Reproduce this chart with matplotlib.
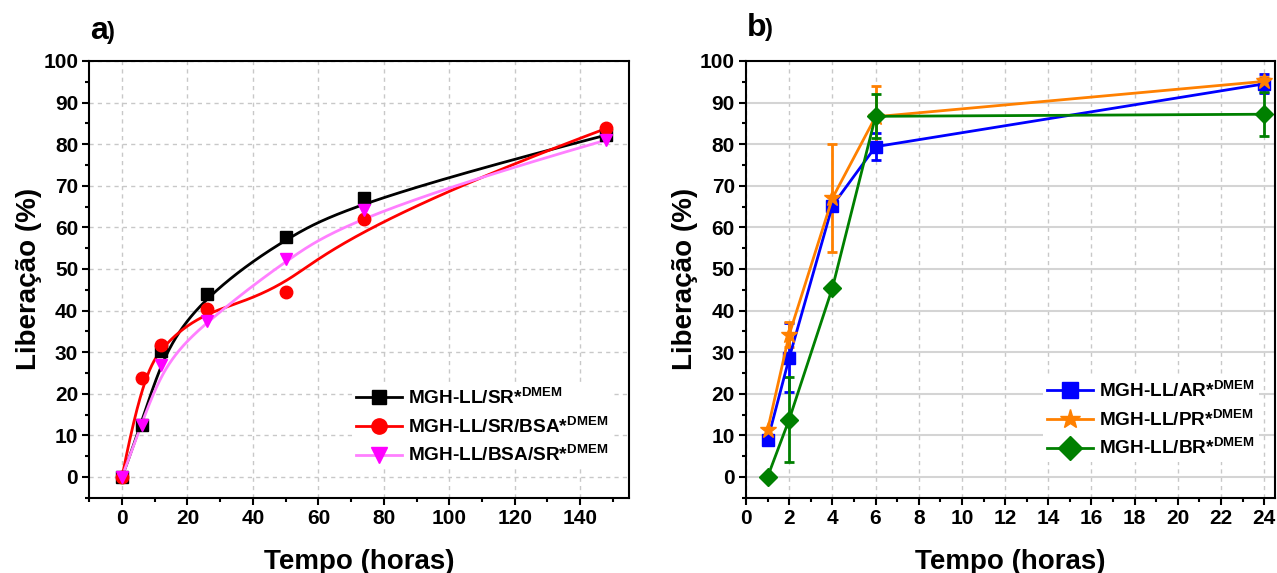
import numpy as np
import matplotlib
matplotlib.use('Agg')
import matplotlib.pyplot as plt
from matplotlib.lines import Line2D
from matplotlib.ticker import MultipleLocator

plt.rcParams['font.family'] = ['Liberation Sans', 'DejaVu Sans']
plt.rcParams['font.weight'] = 'bold'
plt.rcParams['mathtext.fontset'] = 'custom'
plt.rcParams['mathtext.rm'] = 'Liberation Sans:bold'
plt.rcParams['mathtext.bf'] = 'Liberation Sans:bold'

# ---- panel a data -----------------------------------------------------------
t_a = [0, 6, 12, 26, 50, 74, 148]
sr = [0, 12.6, 30.2, 43.9, 57.8, 67.1, 82.2]
sr_bsa = [0, 23.8, 31.8, 40.3, 44.4, 62.0, 83.8]
bsa_sr = [0, 12.6, 27.0, 37.4, 52.3, 64.2, 81.0]
labels_a = ['MGH-LL/SR*', 'MGH-LL/SR/BSA*', 'MGH-LL/BSA/SR*']

# ---- panel b data -----------------------------------------------------------
t_b = [1, 2, 4, 6, 24]
ar = [8.8, 28.6, 65.2, 79.4, 94.5]
ar_err = [0, 8.3, 0, 3.2, 2.3]
pr = [11.3, 34.2, 67.0, 86.6, 95.1]
pr_err = [0, 3.0, 13.0, 7.3, 1.0]
br = [0, 13.8, 45.4, 86.7, 87.2]
br_err = [0, 10.3, 0, 5.3, 5.3]
labels_b = ['MGH-LL/AR*', 'MGH-LL/PR*', 'MGH-LL/BR*']


#==============================================================================
def bspline(xs, ys, n=400, k=3):
    """clamped cubic B-spline using the data as control points"""
    P = np.column_stack([xs, ys])
    m = len(P)
    knots = np.concatenate([np.zeros(k), np.linspace(0, 1, m - k + 1), np.ones(k)])
    t = np.linspace(0, 1, n)
    t[-1] -= 1e-9
    N = np.array([((knots[i] <= t) & (t < knots[i+1])).astype(float)
                  for i in range(len(knots) - 1)])
    for p in range(1, k + 1):
        Nn = np.zeros((len(knots) - 1 - p, n))
        for i in range(len(knots) - 1 - p):
            d1 = knots[i+p] - knots[i]
            d2 = knots[i+p+1] - knots[i+1]
            a = (t - knots[i]) / d1 * N[i] if d1 > 0 else 0
            b = (knots[i+p+1] - t) / d2 * N[i+1] if d2 > 0 else 0
            Nn[i] = a + b
        N = Nn
    c = N.T @ P
    return c[:, 0], c[:, 1]


def style_axes(ax):
    for s in ax.spines.values():
        s.set_linewidth(1.5)
    ax.tick_params(which='major', direction='out', length=5, width=1.5,
                   labelsize=15, pad=3)
    ax.tick_params(which='minor', direction='out', length=3, width=1.5)
    ax.set_ylim(-5, 100)
    ax.yaxis.set_major_locator(MultipleLocator(10))
    ax.yaxis.set_minor_locator(MultipleLocator(5))
    ax.set_xlabel('Tempo (horas)', fontsize=20, fontweight='bold', labelpad=15)
    ax.set_ylabel('Liberação (%)', fontsize=20, fontweight='bold', labelpad=1)
    for lab in ax.get_xticklabels() + ax.get_yticklabels():
        lab.set_fontweight('bold')


fig = plt.figure(figsize=(12.77, 5.73), dpi=100)
W, H = 1277., 573.

# ---- panel a ----------------------------------------------------------------
axa = fig.add_axes([89.3/W, 1 - 497.7/H, 540/W, 436.7/H])
style_axes(axa)
axa.set_xlim(-10, 155)
axa.xaxis.set_major_locator(MultipleLocator(20))
axa.xaxis.set_minor_locator(MultipleLocator(10))
axa.grid(True, which='major', linestyle=(0, (3, 3)), color='#c8c8c8', linewidth=1)
axa.set_axisbelow(True)

series_a = [(sr, 'black', 'black', 's', 8),
            (sr_bsa, 'red', 'red', 'o', 9),
            (bsa_sr, '#ff80ff', '#ff00ff', 'v', 9)]
handles_a = []
for (y, lc, mc, mk, ms), lab in zip(series_a, labels_a):
    cx, cy = bspline(t_a, y)
    axa.plot(cx, cy, color=lc, lw=2, zorder=2)
    axa.plot(t_a, y, mk, color=mc, ms=ms, zorder=3)
    handles_a.append(Line2D([], [], color=lc, lw=2, marker=mk, mfc=mc, mec=mc, ms=ms + 2,
                            label=lab + r'$^{\mathbf{DMEM}}$'))
leg = axa.legend(handles=handles_a, loc='upper left', bbox_to_anchor=(0.487, 0.262),
                 frameon=True, fancybox=False, edgecolor='none', framealpha=1,
                 prop={'weight': 'bold', 'size': 13.7}, handlelength=2.4,
                 handletextpad=0.35, labelspacing=0.42, borderpad=0.2, borderaxespad=0)

fig.text(90/W, 1 - 39/H, 'a', fontsize=23, fontweight='bold')
fig.text(107/W, 1 - 39/H, ')', fontsize=17, fontweight='bold')

# ---- panel b ----------------------------------------------------------------
axb = fig.add_axes([746/W, 1 - 497.7/H, 529/W, 436.7/H])
style_axes(axb)
axb.set_xlim(0, 24.5)
axb.xaxis.set_major_locator(MultipleLocator(2))
axb.xaxis.set_minor_locator(MultipleLocator(1))
axb.grid(True, axis='y', which='major', linestyle='-', color='#d4d4d4', linewidth=1.5)
axb.grid(True, axis='x', which='major', linestyle=(0, (3, 3)), color='#c8c8c8', linewidth=1)
axb.set_axisbelow(True)

series_b = [(ar, ar_err, '#0000ff', 's', 8),
            (pr, pr_err, '#ff8000', '*', 12),
            (br, br_err, '#008000', 'D', 9)]
handles_b = []
for (y, e, c, mk, ms), lab in zip(series_b, labels_b):
    e = np.array(e, dtype=float)
    e[e == 0] = np.nan
    axb.errorbar(t_b, y, yerr=e, color=c, lw=2, marker=mk, ms=ms, mfc=c, mec=c,
                 capsize=3.5, capthick=2, elinewidth=2, zorder=3)
    handles_b.append(Line2D([], [], color=c, lw=2, marker=mk, mfc=c, mec=c, ms=ms + 3,
                            label=lab + r'$^{\mathbf{DMEM}}$'))
axb.legend(handles=handles_b, loc='upper left', bbox_to_anchor=(0.562, 0.278),
           frameon=True, fancybox=False, edgecolor='none', framealpha=1,
           prop={'weight': 'bold', 'size': 13.7}, handlelength=2.4,
           handletextpad=0.35, labelspacing=0.42, borderpad=0.2, borderaxespad=0)

fig.text(746.7/W, 1 - 36/H, 'b', fontsize=23, fontweight='bold')
fig.text(765/W, 1 - 36/H, ')', fontsize=17, fontweight='bold')

plt.savefig('out.png', dpi=100)
plt.close('all')
